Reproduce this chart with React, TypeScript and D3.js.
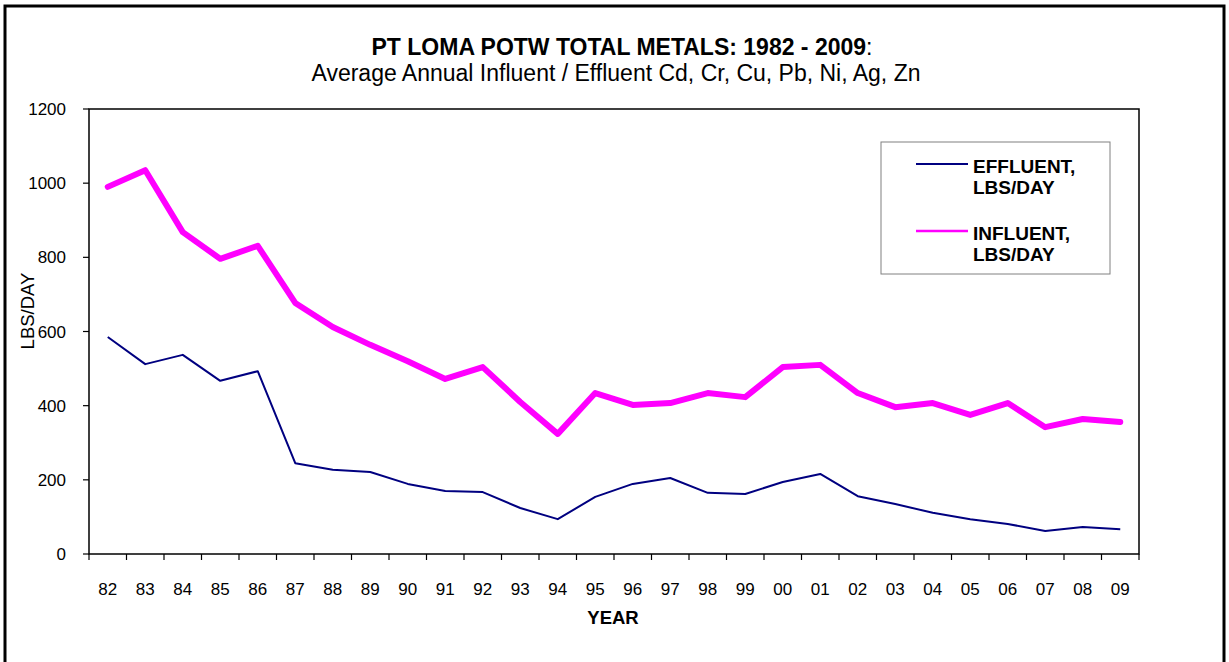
import React, { useEffect, useRef } from "react";
import * as d3 from "d3";

const years = ["82", "83", "84", "85", "86", "87", "88", "89", "90", "91", "92", "93", "94", "95", "96", "97", "98", "99", "00", "01", "02", "03", "04", "05", "06", "07", "08", "09"];
const influent = [990, 1035, 868, 796, 831, 677, 612, 564, 520, 472, 504, 410, 324, 434, 402, 407, 434, 423, 504, 510, 434, 396, 407, 375, 407, 342, 364, 356];
const effluent = [585, 512, 537, 467, 493, 245, 227, 221, 189, 170, 167, 124, 94, 154, 189, 205, 165, 162, 194, 216, 156, 135, 111, 94, 81, 62, 73, 67];
const yTicks = [0, 200, 400, 600, 800, 1000, 1200];

const App = () => {
  const svgRef = useRef<SVGSVGElement | null>(null);

  useEffect(() => {
    const svg = d3.select(svgRef.current);
    svg.selectAll("*").remove();
    const font = "Arial, 'Liberation Sans', sans-serif";

    // outer chart border
    svg.append("rect")
      .attr("x", 5).attr("y", 6).attr("width", 1219).attr("height", 670)
      .attr("fill", "white").attr("stroke", "black").attr("stroke-width", 3);

    // plot area
    const left = 89, right = 1139, top = 109, bottom = 554;
    const x = d3.scaleBand().domain(years).range([left, right]);
    const y = d3.scaleLinear().domain([0, 1200]).range([bottom, top]);

    svg.append("rect")
      .attr("x", left).attr("y", top).attr("width", right - left).attr("height", bottom - top)
      .attr("fill", "none").attr("stroke", "black").attr("stroke-width", 1.5);

    // y ticks + labels
    yTicks.forEach((t) => {
      svg.append("line")
        .attr("x1", left - 6).attr("x2", left).attr("y1", y(t)).attr("y2", y(t))
        .attr("stroke", "black").attr("stroke-width", 1.2);
      svg.append("text")
        .attr("x", left - 23).attr("y", y(t) + 6)
        .attr("text-anchor", "end").attr("font-family", font).attr("font-size", 17)
        .text(t);
    });

    // x ticks at band boundaries + labels at centres
    const bw = x.bandwidth();
    years.forEach((yr, i) => {
      svg.append("line")
        .attr("x1", x(yr)!).attr("x2", x(yr)!).attr("y1", bottom).attr("y2", bottom + 6)
        .attr("stroke", "black").attr("stroke-width", 1.2);
      if (i === years.length - 1) {
        svg.append("line")
          .attr("x1", x(yr)! + bw).attr("x2", x(yr)! + bw).attr("y1", bottom).attr("y2", bottom + 6)
          .attr("stroke", "black").attr("stroke-width", 1.2);
      }
      svg.append("text")
        .attr("x", x(yr)! + bw / 2).attr("y", 595)
        .attr("text-anchor", "middle").attr("font-family", font).attr("font-size", 17)
        .text(yr);
    });

    // axis titles
    svg.append("text")
      .attr("x", 613).attr("y", 624).attr("text-anchor", "middle")
      .attr("font-family", font).attr("font-size", 18.5).attr("font-weight", "bold")
      .text("YEAR");
    svg.append("text")
      .attr("transform", "translate(34,311) rotate(-90)").attr("text-anchor", "middle")
      .attr("font-family", font).attr("font-size", 18.5)
      .text("LBS/DAY");

    // title
    const title = svg.append("text")
      .attr("x", 622).attr("y", 55).attr("text-anchor", "middle")
      .attr("font-family", font).attr("font-size", 23);
    title.append("tspan").attr("font-weight", "bold").text("PT LOMA POTW TOTAL METALS: 1982 - 2009");
    title.append("tspan").text(":");
    svg.append("text")
      .attr("x", 616).attr("y", 81).attr("text-anchor", "middle")
      .attr("font-family", font).attr("font-size", 23)
      .text("Average Annual Influent / Effluent Cd, Cr, Cu, Pb, Ni, Ag, Zn");

    // lines
    const line = d3.line<number>()
      .x((_, i) => x(years[i])! + bw / 2)
      .y((d) => y(d));

    svg.append("path").datum(effluent)
      .attr("d", line).attr("fill", "none")
      .attr("stroke", "#000080").attr("stroke-width", 2).attr("stroke-linejoin", "round");
    svg.append("path").datum(influent)
      .attr("d", line).attr("fill", "none")
      .attr("stroke", "#FF00FF").attr("stroke-width", 6).attr("stroke-linejoin", "round")
      .attr("stroke-linecap", "round");

    // legend
    const lg = svg.append("g");
    lg.append("rect")
      .attr("x", 881).attr("y", 142).attr("width", 229).attr("height", 132)
      .attr("fill", "white").attr("stroke", "#808080").attr("stroke-width", 1);
    const items = [
      { label: ["EFFLUENT,", "LBS/DAY"], color: "#000080", w: 2, ly: 164 },
      { label: ["INFLUENT,", "LBS/DAY"], color: "#FF00FF", w: 2.5, ly: 231 },
    ];
    items.forEach((it) => {
      lg.append("line")
        .attr("x1", 916).attr("x2", 968).attr("y1", it.ly).attr("y2", it.ly)
        .attr("stroke", it.color).attr("stroke-width", it.w);
      it.label.forEach((s, j) => {
        lg.append("text")
          .attr("x", 973).attr("y", it.ly + 9 + j * 20.5)
          .attr("font-family", font).attr("font-size", 19).attr("font-weight", "bold")
          .text(s);
      });
    });
  }, []);

  return (
    <svg
      ref={svgRef}
      width={1229}
      height={662}
      style={{ position: "absolute", left: 0, top: 0, display: "block", background: "white" }}
    />
  );
};

export default App;
